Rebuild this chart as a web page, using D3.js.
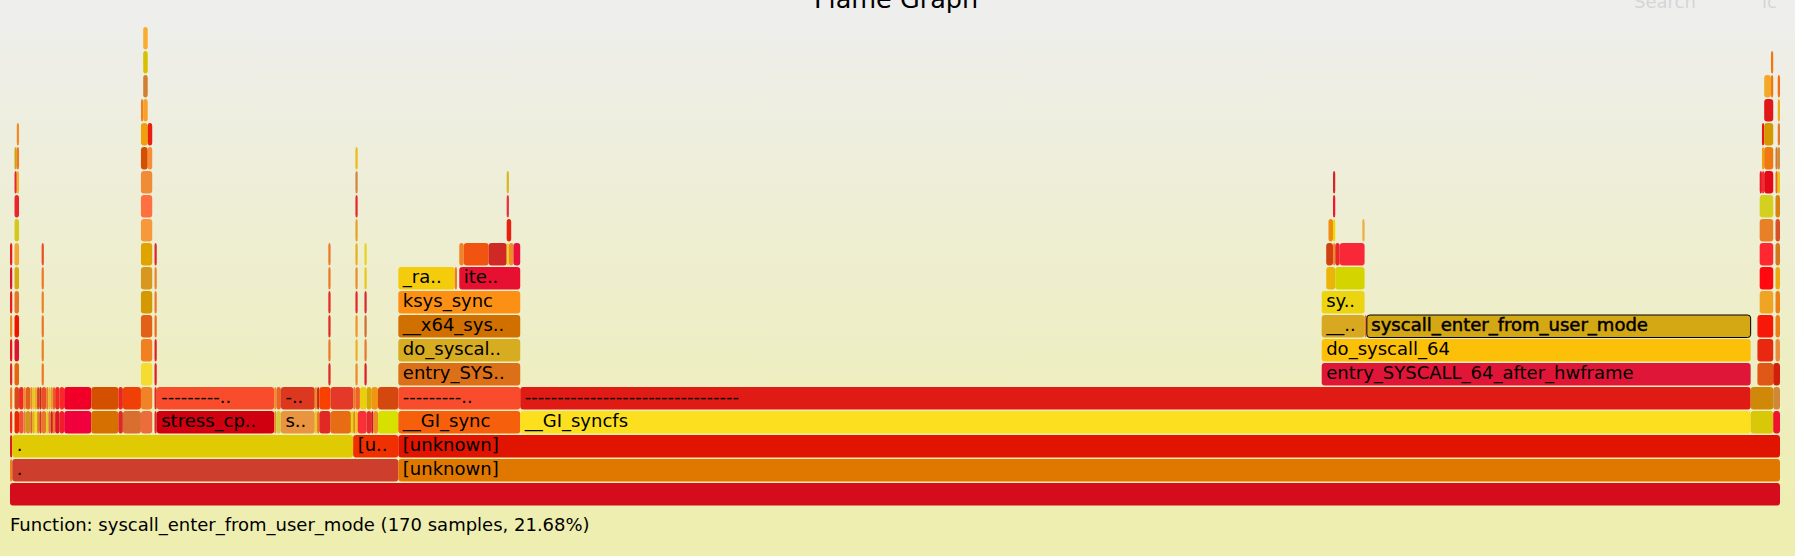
<!DOCTYPE html>
<html>
  <head>
    <meta charset="utf-8"/>
    <script type="text/javascript" src="https://cdnjs.cloudflare.com/ajax/libs/d3/7.8.5/d3.min.js"></script>
    <style type="text/css">

html, body {
  margin: 0;
  padding: 0;
  background: #fff;
}

svg {
  display: block;
  font-family: Verdana, "DejaVu Sans", sans-serif;
}

.frame text {
  font-size: 18px;
  fill: #000;
}

.frame.hover rect {
  stroke: #000;
  stroke-width: 1;
}

.frame.hover text {
  stroke: #000;
  stroke-width: 0.5;
}

#search, #ignorecase {
  font-size: 18px;
  opacity: 0.1;
}

    </style>
  </head>
  <body>
    <svg id="chart" width="1804" height="560"></svg>
    <script type="text/javascript">

var totalSamples = 784;
var maxDepth = 19;
var hovered = "syscall_enter_from_user_mode";
var dashes = "---------------------------------";

// [depth, first sample, samples, function name] ("" = too thin to read)
var frames = [
  [0, 0, 784, ""],

  [1, 0, 1, ""], [1, 1, 171, "."], [1, 172, 612, "[unknown]"],

  [2, 0, 1, ""], [2, 1, 151, "."], [2, 152, 20, "[unknown]"], [2, 172, 612, "[unknown]"],

  [3, 0, 1, ""], [3, 2, 2, ""], [3, 4, 2, ""], [3, 6, 1, ""], [3, 7, 2, ""], [3, 9, 1, ""],
  [3, 10, 1, ""], [3, 11, 1, ""], [3, 12, 1, ""], [3, 13, 1, ""], [3, 14, 2, ""], [3, 16, 1, ""],
  [3, 17, 1, ""], [3, 18, 1, ""], [3, 19, 1, ""], [3, 20, 2, ""], [3, 22, 2, ""], [3, 24, 12, ""],
  [3, 36, 12, ""], [3, 48, 2, ""], [3, 50, 8, ""], [3, 58, 5, ""], [3, 64, 1, ""],
  [3, 65, 52, "stress_cpu_all"], [3, 117, 1, ""], [3, 118, 2, ""], [3, 120, 15, "stress_run"],
  [3, 135, 1, ""], [3, 136, 1, ""], [3, 137, 5, ""], [3, 142, 9, ""], [3, 151, 1, ""],
  [3, 152, 1, ""], [3, 153, 1, ""], [3, 154, 4, ""], [3, 158, 2, ""], [3, 160, 1, ""],
  [3, 161, 2, ""], [3, 163, 9, ""], [3, 172, 54, "__GI_sync"], [3, 226, 545, "__GI_syncfs"],
  [3, 771, 10, ""], [3, 781, 3, ""],

  [4, 0, 1, ""], [4, 2, 2, ""], [4, 4, 2, ""], [4, 6, 1, ""], [4, 7, 2, ""], [4, 9, 1, ""],
  [4, 10, 1, ""], [4, 11, 1, ""], [4, 12, 1, ""], [4, 13, 1, ""], [4, 14, 2, ""], [4, 16, 1, ""],
  [4, 17, 1, ""], [4, 18, 1, ""], [4, 19, 1, ""], [4, 20, 2, ""], [4, 22, 2, ""], [4, 24, 12, ""],
  [4, 36, 12, ""], [4, 48, 2, ""], [4, 50, 8, ""], [4, 58, 5, ""], [4, 64, 1, ""],
  [4, 65, 52, dashes], [4, 117, 1, ""], [4, 118, 2, ""], [4, 120, 15, dashes],
  [4, 135, 1, ""], [4, 136, 1, ""], [4, 137, 5, ""], [4, 142, 10, ""], [4, 152, 1, ""],
  [4, 153, 2, ""], [4, 155, 3, ""], [4, 158, 2, ""], [4, 160, 3, ""], [4, 163, 9, ""],
  [4, 172, 54, dashes], [4, 226, 545, dashes], [4, 771, 10, ""], [4, 781, 3, ""],

  [5, 0, 1, ""], [5, 2, 2, ""], [5, 14, 1, ""], [5, 58, 5, ""], [5, 64, 1, ""],
  [5, 141, 1, ""], [5, 153, 1, ""], [5, 157, 1, ""],
  [5, 172, 54, "entry_SYSCALL_64_after_hwframe"], [5, 581, 190, "entry_SYSCALL_64_after_hwframe"],
  [5, 774, 7, ""], [5, 781, 3, ""],

  [6, 0, 1, ""], [6, 2, 2, ""], [6, 14, 1, ""], [6, 58, 5, ""], [6, 64, 1, ""],
  [6, 141, 1, ""], [6, 153, 1, ""], [6, 157, 1, ""],
  [6, 172, 54, "do_syscall_64"], [6, 581, 190, "do_syscall_64"],
  [6, 774, 7, ""], [6, 782, 2, ""],

  [7, 0, 1, ""], [7, 2, 2, ""], [7, 14, 1, ""], [7, 58, 5, ""], [7, 64, 1, ""],
  [7, 141, 1, ""], [7, 153, 1, ""], [7, 157, 1, ""],
  [7, 172, 54, "__x64_sys_sync"], [7, 581, 19, "__x64_sys_syncfs"], [7, 600, 1, ""],
  [7, 601, 170, "syscall_enter_from_user_mode"], [7, 774, 7, ""], [7, 782, 2, ""],

  [8, 0, 1, ""], [8, 2, 2, ""], [8, 14, 1, ""], [8, 58, 5, ""], [8, 64, 1, ""],
  [8, 141, 1, ""], [8, 153, 1, ""], [8, 157, 1, ""],
  [8, 172, 54, "ksys_sync"], [8, 581, 19, "sync_filesystem"], [8, 775, 6, ""], [8, 782, 2, ""],

  [9, 0, 1, ""], [9, 2, 2, ""], [9, 14, 1, ""], [9, 58, 5, ""], [9, 64, 1, ""],
  [9, 141, 1, ""], [9, 153, 1, ""], [9, 157, 1, ""],
  [9, 172, 25, "_raw_spin_lock"], [9, 197, 1, ""], [9, 199, 27, "iterate_supers"],
  [9, 583, 4, ""], [9, 587, 13, ""], [9, 775, 6, ""], [9, 782, 2, ""],

  [10, 0, 1, ""], [10, 2, 2, ""], [10, 14, 1, ""], [10, 58, 5, ""], [10, 64, 1, ""],
  [10, 141, 1, ""], [10, 153, 1, ""], [10, 157, 1, ""],
  [10, 199, 2, ""], [10, 201, 11, ""], [10, 212, 8, ""], [10, 220, 1, ""], [10, 221, 2, ""],
  [10, 223, 3, ""], [10, 583, 3, ""], [10, 586, 1, ""], [10, 587, 2, ""], [10, 589, 11, ""],
  [10, 775, 6, ""], [10, 782, 2, ""],

  [11, 2, 2, ""], [11, 58, 5, ""], [11, 153, 1, ""], [11, 220, 2, ""], [11, 584, 2, ""],
  [11, 586, 1, ""], [11, 599, 1, ""], [11, 775, 6, ""], [11, 782, 2, ""],

  [12, 2, 2, ""], [12, 58, 5, ""], [12, 153, 1, ""], [12, 220, 1, ""], [12, 586, 1, ""],
  [12, 775, 6, ""], [12, 782, 2, ""],

  [13, 2, 1, ""], [13, 3, 1, ""], [13, 58, 5, ""], [13, 153, 1, ""], [13, 220, 1, ""],
  [13, 586, 1, ""], [13, 775, 1, ""], [13, 776, 1, ""], [13, 777, 4, ""], [13, 782, 1, ""],
  [13, 783, 1, ""],

  [14, 2, 1, ""], [14, 3, 1, ""], [14, 58, 3, ""], [14, 61, 2, ""], [14, 153, 1, ""],
  [14, 776, 1, ""], [14, 777, 4, ""], [14, 782, 1, ""], [14, 783, 1, ""],

  [15, 3, 1, ""], [15, 58, 3, ""], [15, 61, 2, ""], [15, 776, 1, ""], [15, 777, 4, ""],
  [15, 783, 1, ""],

  [16, 58, 1, ""], [16, 59, 2, ""], [16, 777, 4, ""], [16, 783, 1, ""],

  [17, 59, 2, ""], [17, 777, 3, ""], [17, 780, 1, ""], [17, 783, 1, ""],

  [18, 59, 2, ""], [18, 780, 1, ""],

  [19, 59, 2, ""]
];

// fill of each frame, keyed by "depth:first sample"
var frameFills = {
  "0:0": "#d40c1c",
  "1:0": "#f08020", "1:1": "#ce3e2c", "1:172": "#e07800",
  "2:0": "#dc1e1e", "2:1": "#e0ca04", "2:152": "#f03000", "2:172": "#e01400",

  "3:0": "#f0281e", "3:2": "#e82800", "3:4": "#f0503c", "3:6": "#e68228", "3:7": "#d2961e",
  "3:9": "#dc6428", "3:10": "#e8b414", "3:11": "#f0dc14", "3:12": "#dc8228", "3:13": "#dc3228",
  "3:14": "#e87828", "3:16": "#e6c828", "3:17": "#dc7828", "3:18": "#d21e1e", "3:19": "#ec7828",
  "3:20": "#dc1428", "3:22": "#f01e28", "3:24": "#f0003c", "3:36": "#d67000", "3:48": "#dc2828",
  "3:50": "#d86e30", "3:58": "#ec6c3c", "3:64": "#d82830", "3:65": "#d00010", "3:117": "#e88c32",
  "3:118": "#d8c83c", "3:120": "#e89440", "3:135": "#e8c828", "3:136": "#ec781e", "3:137": "#e22824",
  "3:142": "#e86c14", "3:151": "#d8dc00", "3:152": "#ec8228", "3:153": "#f0c800", "3:154": "#f83038",
  "3:158": "#e82830", "3:160": "#d01818", "3:161": "#f08c28", "3:163": "#d8e000", "3:172": "#f6600c",
  "3:226": "#fce020", "3:771": "#d8c808", "3:781": "#f01030",

  "4:0": "#f07828", "4:2": "#d84818", "4:4": "#f02828", "4:6": "#f08c28", "4:7": "#dc6020",
  "4:9": "#ec8c20", "4:10": "#e8c818", "4:11": "#f0aa28", "4:12": "#d44020", "4:13": "#c82818",
  "4:14": "#e85028", "4:16": "#e88228", "4:17": "#e8be28", "4:18": "#e69632", "4:19": "#ec5a1e",
  "4:20": "#f02828", "4:22": "#f82828", "4:24": "#f00028", "4:36": "#d45000", "4:48": "#e82820",
  "4:50": "#f04008", "4:58": "#f08228", "4:64": "#dc2828", "4:65": "#f84c2c", "4:117": "#f08c28",
  "4:118": "#e86428", "4:120": "#dc3820", "4:135": "#e88c28", "4:136": "#c82818", "4:137": "#f84000",
  "4:142": "#e43828", "4:152": "#e87828", "4:153": "#f06028", "4:155": "#e8d010", "4:158": "#d4a800",
  "4:160": "#f09614", "4:163": "#d44810", "4:172": "#f84c2c", "4:226": "#e01a14", "4:771": "#d08808",
  "4:781": "#d08838",

  "5:0": "#e02828", "5:2": "#e46414", "5:14": "#ec7828", "5:58": "#f4dc30", "5:64": "#e01e28",
  "5:141": "#e02828", "5:153": "#ec8c28", "5:157": "#e01e28", "5:172": "#dc7018", "5:581": "#e01638",
  "5:774": "#e05818", "5:781": "#d21e0a",

  "6:0": "#e8141e", "6:2": "#dc1432", "6:14": "#ec8028", "6:58": "#f08020", "6:64": "#e01e28",
  "6:141": "#ec7828", "6:153": "#ecb028", "6:157": "#e87830", "6:172": "#d8ac20", "6:581": "#fcc008",
  "6:774": "#e82810", "6:782": "#e88c3c",

  "7:0": "#ec8c28", "7:2": "#f01400", "7:14": "#e87828", "7:58": "#e26018", "7:64": "#ec6e1e",
  "7:141": "#e02828", "7:153": "#ec9628", "7:157": "#d06e38", "7:172": "#d07000", "7:581": "#d8a820",
  "7:600": "#e87820", "7:601": "#d4a814", "7:774": "#f81808", "7:782": "#ec8018",

  "8:0": "#e61e1e", "8:2": "#e27828", "8:14": "#ec8228", "8:58": "#d49800", "8:64": "#ec7828",
  "8:141": "#e62828", "8:153": "#e62830", "8:157": "#dc2832", "8:172": "#fc9014", "8:581": "#ecd410",
  "8:775": "#f0a424", "8:782": "#ec8014",

  "9:0": "#dc143c", "9:2": "#d4ac10", "9:14": "#ec7828", "9:58": "#d89820", "9:64": "#ec8228",
  "9:141": "#ec7828", "9:153": "#ec8c28", "9:157": "#e8c818", "9:172": "#f4cc0c", "9:197": "#f07828",
  "9:199": "#e81030", "9:583": "#ecb408", "9:587": "#d4d400", "9:775": "#ff0810", "9:782": "#eca810",

  "10:0": "#e61e1e", "10:2": "#f0aa32", "10:14": "#e85028", "10:58": "#e0a400", "10:64": "#dc2828",
  "10:141": "#ec7828", "10:153": "#e8b01e", "10:157": "#ecd21e", "10:199": "#f08228", "10:201": "#f05410",
  "10:212": "#d02824", "10:220": "#f0d020", "10:221": "#f08c28", "10:223": "#e8103c", "10:583": "#d04010",
  "10:586": "#f08c28", "10:587": "#e82828", "10:589": "#f82838", "10:775": "#ff2830", "10:782": "#d47820",

  "11:2": "#d4c81e", "11:58": "#f8983c", "11:153": "#e8a028", "11:220": "#e82010", "11:584": "#f08c10",
  "11:586": "#ecdc00", "11:599": "#f0ac40", "11:775": "#e88028", "11:782": "#d85028",

  "12:2": "#e82828", "12:58": "#ff7040", "12:153": "#e82828", "12:220": "#e83040", "12:586": "#f01830",
  "12:775": "#d4d020", "12:782": "#d88210",

  "13:2": "#e82828", "13:3": "#f0b428", "13:58": "#f08c38", "13:153": "#d08840", "13:220": "#d8b828",
  "13:586": "#d02828", "13:775": "#e81820", "13:776": "#f03030", "13:777": "#e40818", "13:782": "#ec7010",
  "13:783": "#e6c814",

  "14:2": "#d4a014", "14:3": "#f0781e", "14:58": "#d45000", "14:61": "#f88c38", "14:153": "#f0b818",
  "14:776": "#f0a010", "14:777": "#f07810", "14:782": "#d07830", "14:783": "#d08c38",

  "15:3": "#f08c28", "15:58": "#f0a008", "15:61": "#e82010", "15:776": "#e81818", "15:777": "#d49800",
  "15:783": "#e87830",

  "16:58": "#ec8020", "16:59": "#f8a028", "16:777": "#e01818", "16:783": "#f0aa14",
  "17:59": "#d08030", "17:777": "#f4a828", "17:780": "#f07810", "17:783": "#f07010",
  "18:59": "#d8c000", "18:780": "#f07810",
  "19:59": "#f8ac30"
};

var fontSize = 18,
    fontWidth = 0.59,
    frameHeight = 22.5;

var svg = d3.select("#chart");

// background gradient, like flamegraph.pl
var grad = svg.append("defs").append("linearGradient")
    .attr("id", "background")
    .attr("gradientUnits", "userSpaceOnUse")
    .attr("x1", 0).attr("y1", 0)
    .attr("x2", 0).attr("y2", 527);
grad.append("stop").attr("offset", "0%").attr("stop-color", "#eeeeee");
grad.append("stop").attr("offset", "100%").attr("stop-color", "#eeeeb0");

svg.append("rect")
    .attr("width", 1795)
    .attr("height", 556)
    .attr("fill", "url(#background)");

var x = d3.scaleLinear().domain([0, totalSamples]).range([10, 1780]);
var y = d3.scaleLinear().domain([0, maxDepth]).range([483, 27]);

svg.append("text")
    .attr("x", 896)
    .attr("y", 7.5)
    .attr("text-anchor", "middle")
    .style("font-size", "25.5px")
    .text("Flame Graph");

svg.append("text").attr("id", "search").attr("x", 1634).attr("y", 7.5).text("Search");
svg.append("text").attr("id", "ignorecase").attr("x", 1762).attr("y", 7.5).text("ic");

function percent(n) {
  return (n / totalSamples * 100).toFixed(2);
}

// same trimming rule as flamegraph.pl
function fitName(d) {
  var name = d[3];
  var chars = Math.floor((x(d[1] + d[2]) - x(d[1])) / (fontSize * fontWidth));
  if (!name || chars < 3) return "";
  if (chars < name.length) return name.substr(0, chars - 2) + "..";
  return name;
}

var frame = svg.append("g").attr("id", "frames")
  .selectAll("g")
    .data(frames)
  .enter().append("g")
    .attr("class", function(d) { return d[3] === hovered ? "frame hover" : "frame"; });

frame.append("title")
    .text(function(d) { return (d[3] || "?") + " (" + d[2] + " samples, " + percent(d[2]) + "%)"; });

frame.append("rect")
    .attr("x", function(d) { return x(d[1]); })
    .attr("y", function(d) { return y(d[0]); })
    .attr("width", function(d) { return x(d[1] + d[2]) - x(d[1]); })
    .attr("height", frameHeight)
    .attr("rx", 3)
    .attr("ry", 3)
    .attr("fill", function(d) { return frameFills[d[0] + ":" + d[1]] || "#e06020"; });

frame.append("text")
    .attr("x", function(d) { return x(d[1]) + 4.5; })
    .attr("y", function(d) { return y(d[0]) + 15.75; })
    .text(fitName);

// details line for the frame under the mouse
var current = frames.filter(function(d) { return d[3] === hovered; })[0];
svg.append("text")
    .attr("x", 10)
    .attr("y", 531)
    .style("font-size", fontSize + "px")
    .text("Function: " + current[3] + " (" + current[2] + " samples, " + percent(current[2]) + "%)");

    </script>
  </body>
</html>
